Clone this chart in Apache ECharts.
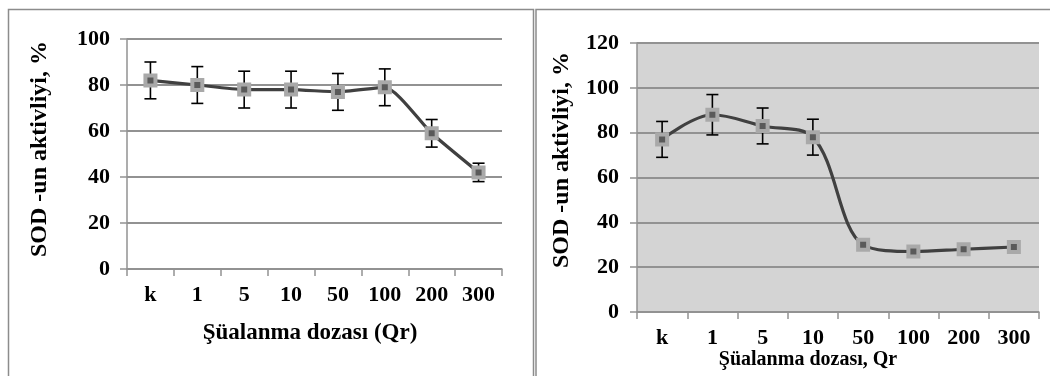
<!DOCTYPE html>
<html>
<head>
<meta charset="utf-8">
<script src="https://cdn.jsdelivr.net/npm/echarts@6/dist/echarts.min.js"></script>
<style>
  html, body { margin: 0; padding: 0; background: #fff; }
  #chart { width: 1050px; height: 376px; }
</style>
</head>
<body>
<div id="chart"></div>
<script>
// doses on the x axis (same for both panels)
var categories = ['k', '1', '5', '10', '50', '100', '200', '300'];

// left panel: SOD activity, % and error
var leftValues = [82, 80, 78, 78, 77, 79, 59, 42];
var leftErrors = [8, 8, 8, 8, 8, 8, 6, 4];

// right panel
var rightValues = [77, 88, 83, 78, 30, 27, 28, 29];
var rightErrors = [8, 9, 8, 8, null, null, null, null];

var FONT = '"Liberation Serif", "Times New Roman", serif';
var gridColor = '#929292';

function errData(vals, errs) {
  var out = [];
  vals.forEach(function (v, i) {
    if (errs[i] != null) out.push([i, v - errs[i], v + errs[i]]);
  });
  return out;
}

function renderErr(params, api) {
  var lo = api.coord([api.value(0), api.value(1)]);
  var hi = api.coord([api.value(0), api.value(2)]);
  var half = 6;
  var st = { stroke: '#000', lineWidth: 1.6 };
  return {
    type: 'group',
    children: [
      { type: 'line', shape: { x1: lo[0], y1: lo[1], x2: hi[0], y2: hi[1] }, style: st },
      { type: 'line', shape: { x1: lo[0] - half, y1: lo[1], x2: lo[0] + half, y2: lo[1] }, style: st },
      { type: 'line', shape: { x1: hi[0] - half, y1: hi[1], x2: hi[0] + half, y2: hi[1] }, style: st }
    ]
  };
}

function xAx(gi) {
  return {
    type: 'category', gridIndex: gi, data: categories, boundaryGap: true,
    axisLine: { lineStyle: { color: gridColor, width: 1.5 } },
    axisTick: { show: true, length: 7, lineStyle: { color: gridColor, width: 1.5 } },
    axisLabel: { color: '#000', fontFamily: FONT, fontWeight: 'bold', fontSize: 22, margin: 15 }
  };
}
function yAx(gi, max, margin) {
  return {
    type: 'value', gridIndex: gi, min: 0, max: max, interval: 20,
    axisLine: { show: true, lineStyle: { color: gridColor, width: 1.5 } },
    axisTick: { show: true, length: 7, lineStyle: { color: gridColor, width: 1.5 } },
    splitLine: { lineStyle: { color: gridColor, width: 1.8 } },
    axisLabel: { color: '#000', fontFamily: FONT, fontWeight: 'bold', fontSize: 22, margin: margin }
  };
}
function lineSeries(gi, vals, smooth) {
  return {
    type: 'line', xAxisIndex: gi, yAxisIndex: gi, data: vals, smooth: smooth, z: 3,
    symbol: 'rect', symbolSize: 10,
    lineStyle: { color: '#404040', width: 3.2 },
    itemStyle: { color: '#5a5a5a', borderColor: '#a9a9a9', borderWidth: 4 }
  };
}
function errSeries(gi, vals, errs) {
  return {
    type: 'custom', xAxisIndex: gi, yAxisIndex: gi, z: 2,
    data: errData(vals, errs), renderItem: renderErr,
    encode: { x: 0, y: [1, 2] }
  };
}

var chart = echarts.init(document.getElementById('chart'), null, { renderer: 'canvas' });
chart.setOption({
  animation: false,
  backgroundColor: '#fff',
  grid: [
    { left: 127, right: 548, top: 39, bottom: 107 },
    { left: 637, right: 11, top: 43, bottom: 64, show: true, backgroundColor: '#d4d4d4', borderWidth: 0 }
  ],
  xAxis: [xAx(0), xAx(1)],
  yAxis: [yAx(0, 100, 17), yAx(1, 120, 18)],
  series: [
    errSeries(0, leftValues, leftErrors),
    lineSeries(0, leftValues, 0.2),
    errSeries(1, rightValues, rightErrors),
    lineSeries(1, rightValues, 0.35)
  ],
  graphic: [
    { type: 'rect', shape: { x: 8.5, y: 9.5, width: 525, height: 400 }, style: { fill: 'none', stroke: '#8c8c8c', lineWidth: 1.5 }, silent: true },
    { type: 'rect', shape: { x: 536, y: 9.5, width: 600, height: 400 }, style: { fill: 'none', stroke: '#8c8c8c', lineWidth: 1.5 }, silent: true },
    { type: 'text', x: 40, y: 149, rotation: Math.PI / 2,
      style: { text: 'SOD -un aktivliyi, %', font: 'bold 24px ' + FONT, fill: '#000', textAlign: 'center', textVerticalAlign: 'middle' } },
    { type: 'text', x: 310, y: 333,
      style: { text: 'Şüalanma dozası (Qr)', font: 'bold 23px ' + FONT, fill: '#000', textAlign: 'center', textVerticalAlign: 'middle' } },
    { type: 'text', x: 562, y: 160, rotation: Math.PI / 2,
      style: { text: 'SOD -un aktivliyi, %', font: 'bold 24px ' + FONT, fill: '#000', textAlign: 'center', textVerticalAlign: 'middle' } },
    { type: 'text', x: 808, y: 360,
      style: { text: 'Şüalanma dozası, Qr', font: 'bold 20px ' + FONT, fill: '#000', textAlign: 'center', textVerticalAlign: 'middle' } }
  ]
});
</script>
</body>
</html>
